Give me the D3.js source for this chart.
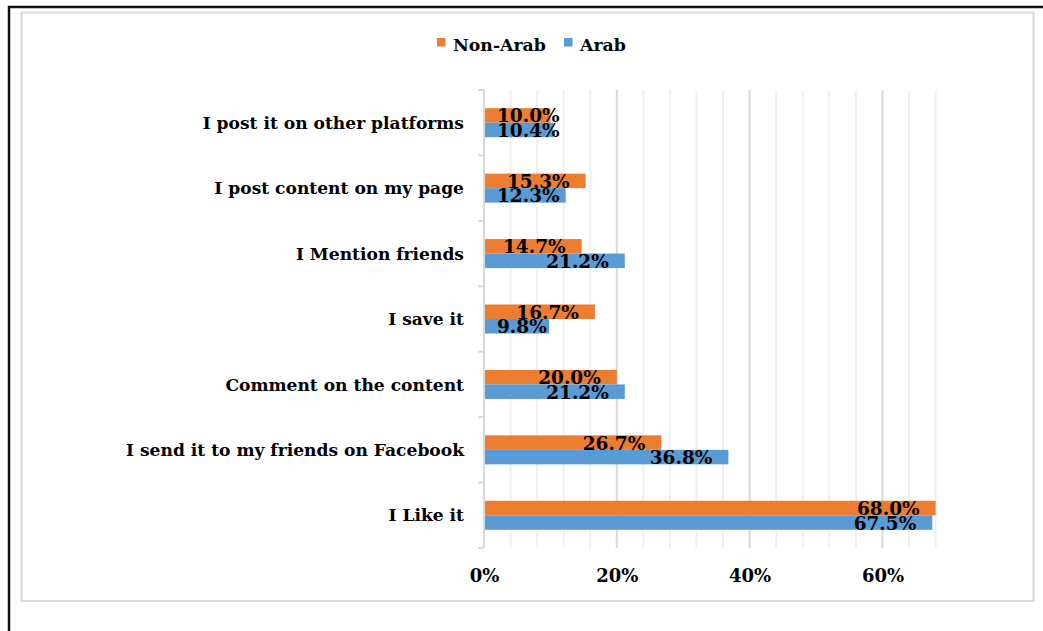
<!DOCTYPE html>
<html>
<head>
<meta charset="utf-8">
<script src="https://cdn.jsdelivr.net/npm/d3@7"></script>
<style>
  html, body { margin: 0; padding: 0; background: #fff; }
  svg { display: block; }
  text { font-family: "DejaVu Serif", "Liberation Serif", serif; font-weight: bold; fill: #000; }
</style>
</head>
<body>
<svg id="chart" width="1043" height="631"></svg>
<script>
// Responses to content, top to bottom
const categories = [
  "I post it on other platforms",
  "I post content on my page",
  "I Mention friends",
  "I save it",
  "Comment on the content",
  "I send it to my friends on Facebook",
  "I Like it"
];
const seriesNames = ["Non-Arab", "Arab"];
const nonArab = [0.100, 0.153, 0.147, 0.167, 0.200, 0.267, 0.680];
const arab    = [0.104, 0.123, 0.212, 0.098, 0.212, 0.368, 0.675];
const seriesColors = ["#ED7D31", "#5B9BD5"];
const xTicks = [0, 0.2, 0.4, 0.6];
const xMax = 0.68;
const minorStep = 0.04;

const svg = d3.select("#chart");

// Outer frame (black) and chart area border (light gray)
svg.append("rect").attr("x", 9).attr("y", 7).attr("width", 1100).attr("height", 700)
  .attr("fill", "none").attr("stroke", "#111").attr("stroke-width", 2.5);
svg.append("rect").attr("x", 21.5).attr("y", 12.5).attr("width", 1012).attr("height", 588.5)
  .attr("fill", "#fff").attr("stroke", "#d9d9d9").attr("stroke-width", 2);

const plot = { left: 484, right: 935.6, top: 90, bottom: 548 };

const x = d3.scaleLinear().domain([0, xMax]).range([plot.left, plot.right]);
const y = d3.scaleBand().domain(categories).range([plot.top, plot.bottom]).padding(0);
const ySub = d3.scaleBand().domain(seriesNames).range([0, y.bandwidth()])
  .paddingInner(0).paddingOuter(1.255);

// Gridlines: minor every 4%, major every 20%
const minorVals = d3.range(1, Math.round(xMax / minorStep) + 1).map(i => +(i * minorStep).toFixed(2))
  .filter(v => !xTicks.includes(v));
svg.append("g").selectAll("line").data(minorVals).join("line")
  .attr("x1", d => x(d)).attr("x2", d => x(d))
  .attr("y1", plot.top).attr("y2", plot.bottom)
  .attr("stroke", "#efefef").attr("stroke-width", 2);
svg.append("g").selectAll("line").data(xTicks.filter(v => v > 0)).join("line")
  .attr("x1", d => x(d)).attr("x2", d => x(d))
  .attr("y1", plot.top).attr("y2", plot.bottom)
  .attr("stroke", "#d9d9d9").attr("stroke-width", 2);

// Bars
const rows = categories.map((c, i) => ({ cat: c, vals: [nonArab[i], arab[i]] }));
const groups = svg.append("g").selectAll("g").data(rows).join("g")
  .attr("transform", d => `translate(0,${y(d.cat)})`);
groups.selectAll("rect").data(d => d.vals.map((v, j) => ({ v, s: seriesNames[j], c: seriesColors[j] })))
  .join("rect")
  .attr("x", x(0))
  .attr("y", d => ySub(d.s))
  .attr("width", d => x(d.v) - x(0))
  .attr("height", ySub.bandwidth())
  .attr("fill", d => d.c);

// Category axis
const yAxis = svg.append("g").attr("transform", `translate(${plot.left},0)`);
yAxis.append("line").attr("x1", 0).attr("x2", 0).attr("y1", plot.top).attr("y2", plot.bottom)
  .attr("stroke", "#d9d9d9").attr("stroke-width", 2);
const boundaries = categories.map(c => y(c)).concat([plot.bottom]);
yAxis.selectAll("line.tick").data(boundaries).join("line").attr("class", "tick")
  .attr("x1", -6).attr("x2", 0).attr("y1", d => d).attr("y2", d => d)
  .attr("stroke", "#d9d9d9").attr("stroke-width", 2);
svg.append("g").selectAll("text").data(categories).join("text")
  .attr("x", plot.left - 20)
  .attr("y", d => y(d) + y.bandwidth() / 2)
  .attr("dy", "0.36em")
  .attr("text-anchor", "end")
  .attr("font-size", 17.1)
  .text(d => d);

// Value axis labels
const xAxis = d3.axisBottom(x).tickValues(xTicks).tickFormat(d3.format(".0%")).tickSize(0);
const xg = svg.append("g").attr("transform", `translate(0,${plot.bottom})`).call(xAxis);
xg.select(".domain").remove();
xg.selectAll("text").attr("font-size", 18).attr("font-family", null).attr("dy", null).attr("y", 34)
  .style("font-family", "\"DejaVu Serif\", serif").style("font-weight", "bold");

// Data labels: inside end, kept clear of the bar base
groups.each(function(d) {
  const g = d3.select(this);
  d.vals.forEach((v, j) => {
    const t = g.append("text")
      .attr("font-size", 18.5)
      .attr("y", ySub(seriesNames[j]) + ySub.bandwidth() / 2)
      .attr("dy", "0.38em")
      .text(d3.format(".1%")(v));
    const w = t.node().getComputedTextLength();
    const left = Math.max(x(v) - 16 - w, x(0) + 13);
    t.attr("x", left);
  });
});

// Legend
const legend = svg.append("g");
const legendItems = [
  { name: seriesNames[0], color: seriesColors[0], x: 437 },
  { name: seriesNames[1], color: seriesColors[1], x: 564 }
];
legendItems.forEach(it => {
  legend.append("rect").attr("x", it.x).attr("y", 38).attr("width", 8.5).attr("height", 8.5).attr("fill", it.color);
  legend.append("text").attr("x", it.x + 16).attr("y", 50.5).attr("font-size", 17.3).text(it.name);
});
</script>
</body>
</html>
